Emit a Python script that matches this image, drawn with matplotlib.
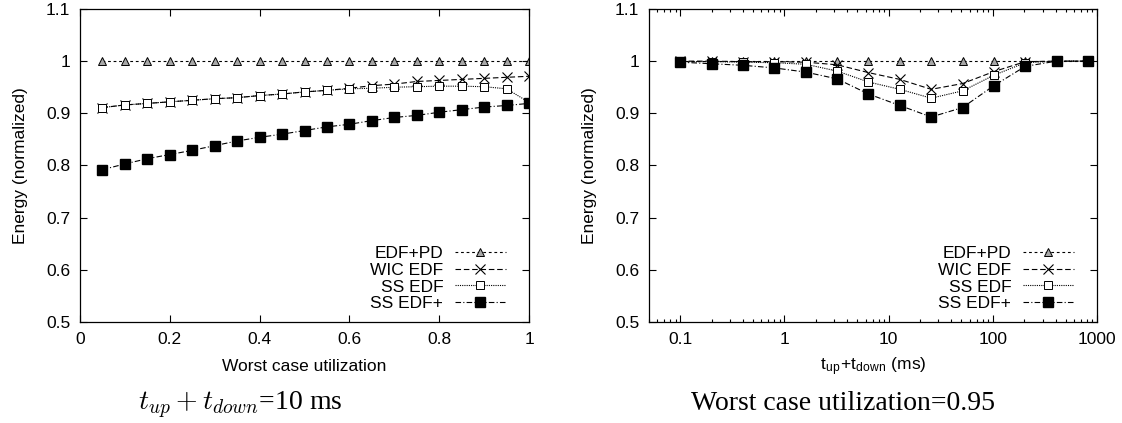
import matplotlib
matplotlib.use("Agg")
import matplotlib.pyplot as plt
from matplotlib.ticker import LogLocator, NullFormatter, FixedLocator, FixedFormatter

plt.rcParams['font.family'] = ['Liberation Sans', 'DejaVu Sans']
plt.rcParams['mathtext.fontset'] = 'cm'

# --- left panel: energy vs worst case utilization (t_up + t_down = 10 ms)
util = [0.05, 0.10, 0.15, 0.20, 0.25, 0.30, 0.35, 0.40, 0.45, 0.50,
        0.55, 0.60, 0.65, 0.70, 0.75, 0.80, 0.85, 0.90, 0.95, 1.00]
edfpd_u = [1.0] * 20
wic_u = [0.911, 0.916, 0.919, 0.922, 0.925, 0.928, 0.930, 0.934, 0.937, 0.941,
         0.944, 0.948, 0.953, 0.956, 0.961, 0.963, 0.965, 0.967, 0.969, 0.971]
ss_u = [0.911, 0.916, 0.919, 0.922, 0.925, 0.928, 0.930, 0.934, 0.937, 0.941,
        0.944, 0.947, 0.948, 0.950, 0.951, 0.952, 0.952, 0.951, 0.947, 0.921]
ssplus_u = [0.792, 0.803, 0.813, 0.821, 0.829, 0.838, 0.847, 0.854, 0.860, 0.867,
            0.874, 0.879, 0.886, 0.892, 0.896, 0.902, 0.907, 0.912, 0.915, 0.919]

# --- right panel: energy vs t_up + t_down (utilization = 0.95)
tsw = [0.1, 0.2, 0.4, 0.8, 1.6, 3.2, 6.4, 12.8, 25.6, 51.2, 102.4, 204.8, 409.6, 819.2]
edfpd_t = [1.0] * 14
wic_t = [1.0, 1.0, 0.999, 0.999, 0.998, 0.993, 0.978, 0.965, 0.946, 0.957, 0.980, 0.999, 1.0, 1.0]
ss_t = [0.999, 0.999, 0.998, 0.997, 0.994, 0.981, 0.960, 0.946, 0.929, 0.943, 0.973, 0.997, 1.0, 1.0]
ssplus_t = [0.998, 0.995, 0.992, 0.987, 0.979, 0.966, 0.937, 0.915, 0.893, 0.911, 0.953, 0.990, 1.0, 1.0]

labels = ["EDF+PD", "WIC EDF", "SS EDF", "SS EDF+"]
yticks = [0.5, 0.6, 0.7, 0.8, 0.9, 1.0, 1.1]
ytick_labels = ['0.5', '0.6', '0.7', '0.8', '0.9', '1', '1.1']

styles = [
    dict(linestyle=(0, (2.5, 2.5)), marker='^', markersize=5.5, markerfacecolor='#a8a8a8',
         markeredgecolor='black', markeredgewidth=0.7),
    dict(linestyle=(0, (5, 2.5)), marker='x', markersize=6.5, markeredgewidth=0.8),
    dict(linestyle=(0, (1, 1)), marker='s', markersize=6, markerfacecolor='white',
         markeredgecolor='black', markeredgewidth=0.7),
    dict(linestyle=(0, (5, 2, 1, 2)), marker='s', markersize=6.5, markerfacecolor='black',
         markeredgecolor='black'),
]

FS = 12.5

fig = plt.figure(figsize=(11.22, 4.23), dpi=100)
ax1 = fig.add_axes([0.0713, 0.2388, 0.4002, 0.740])
ax2 = fig.add_axes([0.5784, 0.2388, 0.3993, 0.740])


def draw(ax, x, series):
    for y, lab, st in zip(series, labels, styles):
        ax.plot(x, y, color='black', linewidth=0.8, label=lab, **st)
    ax.set_ylim(0.5, 1.1)
    ax.yaxis.set_major_locator(FixedLocator(yticks))
    ax.yaxis.set_major_formatter(FixedFormatter(ytick_labels))
    ax.tick_params(which='both', direction='in', top=True, right=True, labelsize=FS, pad=7)
    ax.tick_params(which='major', length=5, width=0.8)
    ax.tick_params(which='minor', length=2.5, width=0.8)
    for sp in ax.spines.values():
        sp.set_linewidth(0.9)
    ax.set_ylabel("Energy (normalized)", fontsize=FS, labelpad=13)
    leg = ax.legend(loc='lower right', bbox_to_anchor=(0.975, -0.005), frameon=False,
                    markerfirst=False, fontsize=FS, handlelength=2.9, handletextpad=0.7,
                    labelspacing=0.1, borderpad=0.2)
    for t in leg.get_texts():
        t.set_ha('right')
    return leg


draw(ax1, util, [edfpd_u, wic_u, ss_u, ssplus_u])
ax1.set_xlim(0, 1)
ax1.xaxis.set_major_locator(FixedLocator([0, 0.2, 0.4, 0.6, 0.8, 1.0]))
ax1.xaxis.set_major_formatter(FixedFormatter(['0', '0.2', '0.4', '0.6', '0.8', '1']))
ax1.set_xlabel("Worst case utilization", fontsize=FS, labelpad=9)

draw(ax2, tsw, [edfpd_t, wic_t, ss_t, ssplus_t])
ax2.set_xscale('log')
ax2.set_xlim(0.05, 1000)
ax2.xaxis.set_major_locator(FixedLocator([0.1, 1, 10, 100, 1000]))
ax2.xaxis.set_major_formatter(FixedFormatter(['0.1', '1', '10', '100', '1000']))
ax2.xaxis.set_minor_locator(LogLocator(base=10, subs=range(2, 10), numticks=20))
ax2.xaxis.set_minor_formatter(NullFormatter())
ax2.set_xlabel(r"t$_{\mathregular{up}}$+t$_{\mathregular{down}}$ (ms)", fontsize=FS, labelpad=6)

# captions under each panel
fig.text(0.214, 0.03, r"$t_{up}+t_{down}$=10 ms", fontsize=20,
         family='Liberation Serif', ha='center', va='baseline')
fig.text(0.751, 0.03, "Worst case utilization=0.95", fontsize=20,
         family='Liberation Serif', ha='center', va='baseline')

fig.savefig("out.png", dpi=100)
